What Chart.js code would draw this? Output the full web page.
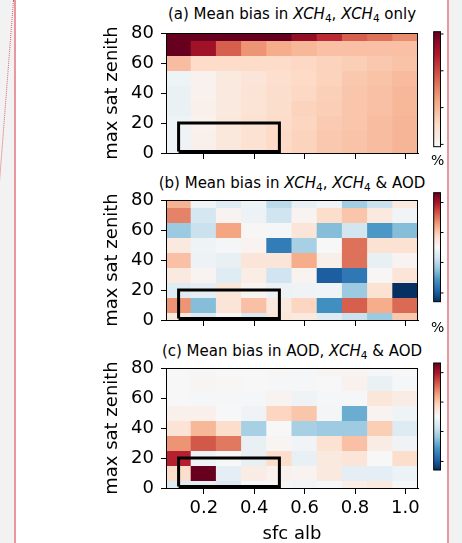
<!DOCTYPE html>
<html>
<head>
<meta charset="utf-8">
<title>Mean bias heatmaps</title>
<script src="https://cdn.jsdelivr.net/npm/chart.js@4.4.1/dist/chart.umd.min.js"></script>
<style>
    html, body { margin: 0; padding: 0; }
    body { width: 462px; height: 543px; background: #f2f2f2; overflow: hidden; position: relative; font-family: "DejaVu Sans", sans-serif; }
    #page { position: absolute; left: 14px; top: 0; width: 431px; height: 543px; background: #fff;
            border-left: 2px solid #e8999f; border-right: 2px solid #e8999f; overflow: hidden; }
    #dots { position: absolute; left: 13px; top: 0; width: 0; height: 182px; border-left: 1px dotted #d9414f;
            transform: rotate(4.4deg); transform-origin: 0 0; opacity: 0.8; }
    canvas { position: absolute; left: 0; }
    .ttl { position: absolute; left: 276px; transform: translateX(-50%); white-space: nowrap;
           font-size: 15px; line-height: 18px; color: #000; }
    .ttl sub { font-size: 70%; vertical-align: -0.25em; line-height: 0; }
    .pct { position: absolute; left: 415px; font-size: 14px; line-height: 16px; color: #000; }
</style>
</head>
<body>
<div id="dots"></div>
<div id="page">
    <div class="ttl" style="top:5px">(a) Mean bias in <i>XCH</i><sub>4</sub>, <i>XCH</i><sub>4</sub> only</div>
    <div class="ttl" style="top:174px">(b) Mean bias in <i>XCH</i><sub>4</sub>, <i>XCH</i><sub>4</sub> &amp; AOD</div>
    <div class="ttl" style="top:342px">(c) Mean bias in AOD, <i>XCH</i><sub>4</sub> &amp; AOD</div>
    <canvas id="panelA" width="430" height="172" style="top:0px"></canvas>
    <canvas id="panelB" width="430" height="172" style="top:167px"></canvas>
    <canvas id="panelC" width="430" height="210" style="top:335px"></canvas>
    <div class="pct" style="top:152px">%</div>
    <div class="pct" style="top:319px">%</div>
</div>
<script>
    // bin centres
    const albedo = [0.1, 0.2, 0.3, 0.4, 0.5, 0.6, 0.7, 0.8, 0.9, 1.0];
    const zenith = [80, 70, 60, 50, 40, 30, 20, 10, 0];   // rows listed top -> bottom
    const xTicks = [0.2, 0.4, 0.6, 0.8, 1.0];
    const yTicks = [0, 20, 40, 60, 80];

    // highlighted region
    const boxAlb = [0.1, 0.1, 0.5, 0.5, 0.1];
    const boxZen = [1, 20, 20, 1, 1];

    // mean bias, relative to each colourbar limit (rows = zenith, cols = albedo)
    const biasXch4Only = [
        [1.00, 1.00, 1.00, 1.00, 1.00, 0.88, 0.75, 0.60, 0.55, 0.47],
        [1.00, 0.85, 0.60, 0.45, 0.37, 0.33, 0.30, 0.30, 0.30, 0.30],
        [0.31, 0.19, 0.19, 0.19, 0.19, 0.21, 0.23, 0.25, 0.27, 0.29],
        [-0.05, 0.04, 0.10, 0.13, 0.17, 0.20, 0.23, 0.27, 0.29, 0.32],
        [-0.07, 0.04, 0.10, 0.14, 0.18, 0.21, 0.24, 0.28, 0.30, 0.33],
        [-0.07, 0.05, 0.10, 0.14, 0.18, 0.23, 0.25, 0.28, 0.30, 0.33],
        [-0.05, 0.04, 0.11, 0.15, 0.19, 0.22, 0.26, 0.28, 0.31, 0.34],
        [-0.04, 0.05, 0.11, 0.15, 0.20, 0.23, 0.27, 0.29, 0.31, 0.34],
        [-0.04, 0.05, 0.11, 0.15, 0.20, 0.23, 0.27, 0.29, 0.31, 0.34]
    ];
    const biasXch4Joint = [
        [0.35, -0.03, -0.12, -0.05, -0.27, -0.08, -0.03, -0.35, -0.22, 0.10],
        [0.50, -0.18, 0.03, -0.06, -0.20, 0.03, 0.18, 0.28, 0.10, -0.03],
        [-0.37, -0.22, 0.40, 0.01, -0.01, 0.13, -0.43, -0.19, -0.58, -0.43],
        [0.10, -0.05, -0.02, 0.03, -0.70, -0.33, 0.00, 0.55, 0.15, 0.15],
        [0.30, -0.06, -0.08, 0.13, 0.13, 0.37, 0.06, 0.55, -0.08, 0.03],
        [0.10, 0.03, -0.12, 0.07, -0.20, 0.03, -0.83, -0.72, 0.01, 0.13],
        [-0.12, -0.10, 0.12, 0.02, -0.06, -0.04, -0.03, -0.37, 0.15, -1.00],
        [0.45, -0.43, 0.13, 0.30, 0.10, 0.22, -0.62, 0.60, 0.37, 0.57],
        [0.10, -0.15, 0.00, -0.15, 0.12, 0.10, -0.13, -0.22, -0.37, 0.27]
    ];
    const biasAodJoint = [
        [0.00, -0.01, 0.00, 0.00, 0.01, -0.01, 0.02, 0.02, -0.01, 0.00],
        [0.00, 0.02, 0.01, 0.00, -0.01, -0.01, 0.00, 0.04, -0.07, -0.01],
        [0.00, -0.01, -0.01, -0.01, 0.03, -0.04, -0.01, -0.01, 0.12, 0.08],
        [0.05, 0.05, 0.00, -0.04, 0.22, 0.28, -0.02, -0.50, 0.03, -0.05],
        [0.14, 0.33, 0.18, -0.33, 0.00, -0.33, -0.36, -0.36, 0.25, -0.13],
        [0.45, 0.62, 0.53, -0.08, 0.02, -0.03, 0.15, 0.30, 0.08, -0.04],
        [0.78, -0.05, 0.00, -0.08, 0.18, -0.08, 0.10, 0.13, 0.00, 0.18],
        [0.18, 1.00, -0.10, 0.08, 0.04, 0.03, 0.10, -0.10, -0.10, -0.06],
        [-0.13, -0.10, -0.15, -0.01, 0.01, -0.03, -0.01, 0.07, 0.10, -0.01]
    ];

    // colourbar ranges and tick marks (same units)
    const cbarA = [0, 1], cbarTicksA = [0.02, 0.34, 0.66, 0.98];
    const cbarBC = [-1, 1], cbarTicksBC = [-0.84, -0.28, 0.27, 0.82];

    // RdBu_r
    const rdbu = [[5,48,97],[33,102,172],[67,147,195],[146,197,222],[209,229,240],[247,247,247],
                  [253,219,199],[244,165,130],[214,96,77],[178,24,43],[103,0,31]];
    function cmap(v) {
        const t = Math.max(0, Math.min(1, (v + 1) / 2)) * 10;
        const i = Math.min(9, Math.floor(t)), f = t - i;
        const a = rdbu[i], b = rdbu[i + 1];
        const c = a.map((q, k) => Math.round(q + (b[k] - q) * f));
        return 'rgb(' + c.join(',') + ')';
    }

    Chart.defaults.font.family = "'DejaVu Sans', sans-serif";
    Chart.defaults.font.size = 18;
    Chart.defaults.color = '#000';

    const frame = {
        id: 'frame',
        afterDatasetsDraw(chart, args, o) {
            const {ctx, chartArea: ca} = chart;
            ctx.save();
            ctx.strokeStyle = '#000';
            ctx.lineWidth = 1;
            ctx.strokeRect(Math.round(ca.left) + 0.5, Math.round(ca.top) + 0.5,
                           Math.round(ca.right - ca.left) - 1, Math.round(ca.bottom - ca.top));
            // colourbar
            const x = ca.right + o.gap, w = o.width;
            const top = ca.top + o.top, bottom = ca.bottom + o.bottom;
            const g = ctx.createLinearGradient(0, bottom, 0, top);
            for (let k = 0; k <= 40; k++) {
                g.addColorStop(k / 40, cmap(o.range[0] + (o.range[1] - o.range[0]) * k / 40));
            }
            ctx.fillStyle = g;
            ctx.fillRect(x, top, w, bottom - top);
            ctx.strokeRect(x, top, w, bottom - top);
            ctx.beginPath();
            o.ticks.forEach(v => {
                const y = bottom - (v - o.range[0]) / (o.range[1] - o.range[0]) * (bottom - top);
                ctx.moveTo(x + w, y);
                ctx.lineTo(x + w + 3, y);
            });
            ctx.stroke();
            ctx.restore();
        }
    };

    function makePanel(id, matrix, cb, showX, padBottom, xHeight) {
        const datasets = matrix.map((row, r) => ({
            type: 'bar',
            data: albedo.map(a => ({x: a, y: [zenith[r] - 5, zenith[r] + 5]})),
            backgroundColor: row.map(cmap),
            borderWidth: 0,
            inflateAmount: 0.5,
            barPercentage: 1,
            categoryPercentage: 1,
            grouped: false,
            clip: 0,
            order: 1
        }));
        datasets.push({
            type: 'line',
            data: boxAlb.map((x, i) => ({x: x, y: boxZen[i]})),
            borderColor: '#000',
            borderWidth: 3,
            pointRadius: 0,
            tension: 0,
            fill: false,
            borderJoinStyle: 'miter',
            order: 0
        });
        return new Chart(document.getElementById(id), {
            type: 'bar',
            data: {datasets: datasets},
            options: {
                responsive: false,
                animation: false,
                events: [],
                layout: {padding: {left: 86, right: 28, top: 33, bottom: padBottom}},
                plugins: {
                    legend: {display: false},
                    tooltip: {enabled: false},
                    frame: cb
                },
                scales: {
                    x: {
                        type: 'linear',
                        min: 0.05, max: 1.05,
                        offset: false,
                        afterBuildTicks: s => { s.ticks = xTicks.map(v => ({value: v})); },
                        afterFit: s => { s.height = xHeight; },
                        ticks: {display: showX, padding: 4, maxRotation: 0,
                                callback: v => v.toFixed(1)},
                        grid: {display: true, offset: false, drawOnChartArea: false, tickLength: 6,
                               tickColor: '#000', tickWidth: 1},
                        border: {display: true, color: '#000', width: 1},
                        title: {display: showX, text: 'sfc alb', padding: {top: 0, bottom: 0},
                                font: {size: 18, lineHeight: 1.2}}
                    },
                    y: {
                        type: 'linear',
                        min: 0, max: 80,
                        afterBuildTicks: s => { s.ticks = yTicks.map(v => ({value: v})); },
                        afterFit: s => { s.width = 64; },
                        ticks: {padding: 7},
                        grid: {display: true, drawOnChartArea: false, tickLength: 5,
                               tickColor: '#000', tickWidth: 1},
                        border: {display: true, color: '#000', width: 1},
                        title: {display: true, text: 'max sat zenith', padding: {top: 0, bottom: 0},
                                font: {size: 18, lineHeight: 1.2}}
                    }
                }
            },
            plugins: [frame]
        });
    }

    makePanel('panelA', biasXch4Only,
        {range: cbarA, ticks: cbarTicksA, gap: 15.7, width: 6.8, top: -1.3, bottom: -6.3}, false, 7, 12);
    makePanel('panelB', biasXch4Joint,
        {range: cbarBC, ticks: cbarTicksBC, gap: 15.7, width: 6.8, top: -7.3, bottom: -18.3}, false, 7, 12);
    makePanel('panelC', biasAodJoint,
        {range: cbarBC, ticks: cbarTicksBC, gap: 15.7, width: 6.8, top: -5, bottom: -18}, true, 0, 57);
</script>
</body>
</html>
